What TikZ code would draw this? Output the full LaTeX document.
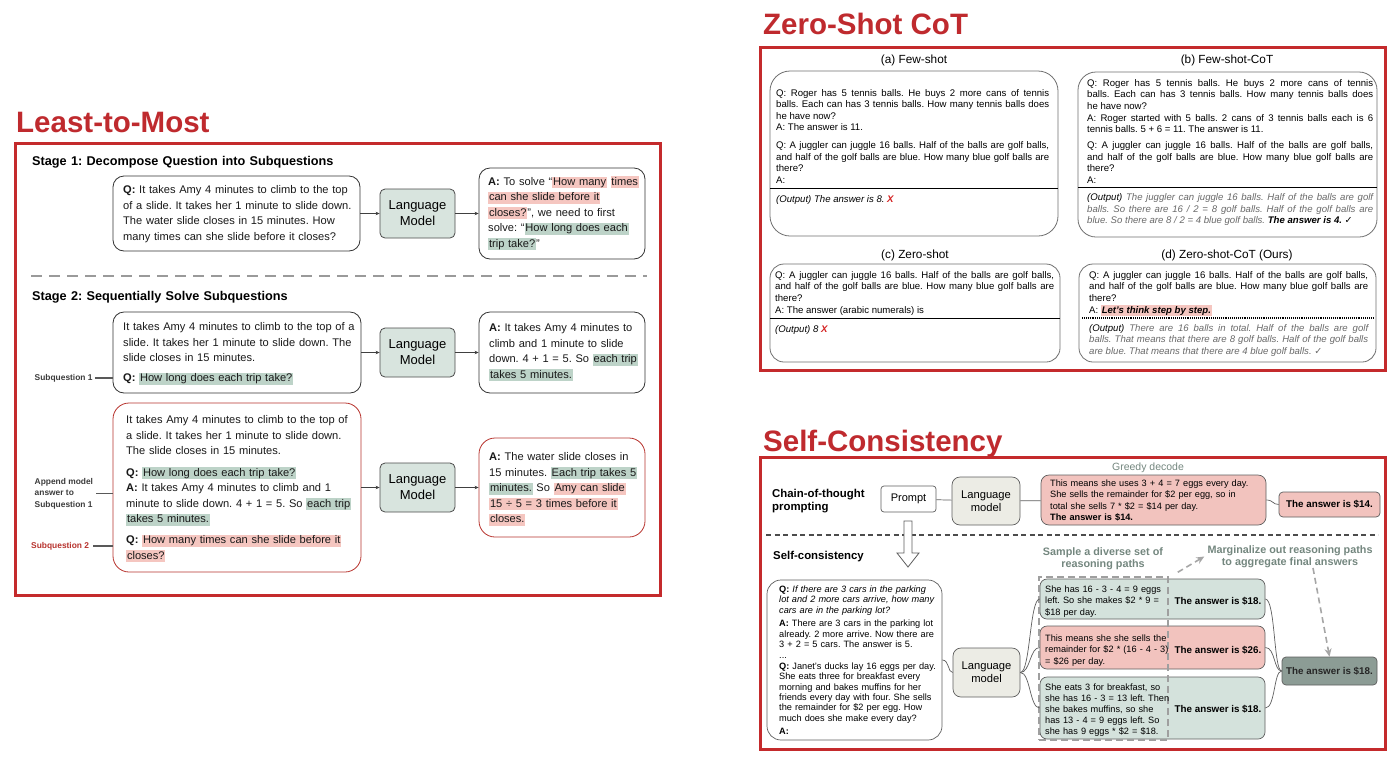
\documentclass[tikz,border=0pt]{standalone}
\usepackage{fontspec}
\setmainfont{Liberation Sans}
\newfontfamily\djv{DejaVu Sans}
\usetikzlibrary{fit,arrows.meta}
\frenchspacing
\definecolor{frameRed}{HTML}{C42A2C}
\definecolor{titleRed}{HTML}{BF2A2E}
\definecolor{lmGreen}{HTML}{D8E4DE}
\definecolor{hlGreen}{HTML}{BDD3C8}
\definecolor{hlPink}{HTML}{F5C6C0}
\definecolor{subRed}{HTML}{B8332E}
\definecolor{labGray}{HTML}{3C3C3C}
\definecolor{sepGray}{HTML}{9A9A9A}
\definecolor{zsBorder}{HTML}{707070}
\definecolor{outGray}{HTML}{6A6A6A}
\definecolor{xRed}{HTML}{D42020}
\definecolor{scGreen}{HTML}{D4E2DC}
\definecolor{scPink}{HTML}{F2C3BE}
\definecolor{scFinal}{HTML}{8C9C95}
\definecolor{scLM}{HTML}{ECECE5}
\definecolor{scBorder}{HTML}{5E5E5E}
\definecolor{scText}{HTML}{74877F}
\newcommand\myfs[2]{\fontsize{#1}{#2}\selectfont}
\newcommand\hg[1]{{\setlength\fboxsep{0.8pt}\colorbox{hlGreen}{\vphantom{Ag}#1}}}
\newcommand\hp[1]{{\setlength\fboxsep{0.8pt}\colorbox{hlPink}{\vphantom{Ag}#1}}}
\tikzset{
 frame/.style={draw=frameRed, line width=3pt, inner sep=0pt},
 ttl/.style={anchor=base west, inner sep=0pt, text=titleRed, font=\myfs{29.5}{32}\bfseries},
 tx/.style={anchor=base west, inner sep=0pt, align=left},
 ltm/.style={draw=black!80, line width=0.8pt, rounded corners=11pt, inner sep=0pt},
 ltmred/.style={draw=subRed, line width=0.8pt, rounded corners=16pt, inner sep=0pt},
 lmbox/.style={draw=black!70, line width=0.8pt, rounded corners=5pt, fill=lmGreen, align=center, font=\myfs{13}{16}, minimum width=75pt, minimum height=49pt, inner sep=0pt},
 ltmtext/.style={tx, font=\myfs{11.1}{15.5}, text=black!90},
 hdr/.style={tx, font=\myfs{12.7}{15}\bfseries, text width=330pt},
 lbl/.style={anchor=west, inner sep=0pt, align=left, font=\myfs{8.4}{11.5}\bfseries, text=labGray},
 lblline/.style={draw=black!65, line width=1.3pt},
 arr/.style={draw=black!75, line width=0.7pt, -{Stealth[length=4pt,width=3.5pt]}},
 sep/.style={draw=sepGray, line width=2.4pt, dash pattern=on 11pt off 7pt},
 zsbox/.style={draw=zsBorder, line width=0.8pt, inner sep=0pt},
 zstext/.style={anchor=base west, inner sep=0pt, align=justify, font=\myfs{9.6}{11.6}},
 zshead/.style={font=\myfs{11.8}{14}, inner sep=0pt},
 rule/.style={draw=black, line width=0.9pt},
 scbox/.style={draw=scBorder, line width=0.7pt, rounded corners=7pt, inner sep=0pt},
 sctext/.style={anchor=base west, inner sep=0pt, align=left, font=\myfs{9.2}{11.4}},
 scans/.style={font=\myfs{9.8}{12}\bfseries, inner sep=0pt},
 scline/.style={draw=scBorder, line width=0.7pt},
 scsep/.style={draw=black!70, line width=1.1pt, dash pattern=on 5pt off 3.5pt},
 dashr/.style={draw=gray!75, line width=1.5pt, dash pattern=on 7pt off 4pt, inner sep=0pt},
 dasharr/.style={draw=gray!70, line width=1.6pt, dash pattern=on 6pt off 4pt, -{Stealth[length=8pt,width=7pt]}},
}
\begin{document}
\begin{tikzpicture}[x=1pt,y=-1pt]
\useasboundingbox (0,0) rectangle (1400,764);
\fill[white] (0,0) rectangle (1400,764);

% ================= Least-to-Most =================
\node[frame, fit={(15,143)(660,595)}] (ltmf) {};
\node[ttl] (ltmt) at (16,132) {Least-to-Most};
\node[hdr] (s1) at (32,165.5) {Stage 1: Decompose Question into Subquestions};
\node[ltm, fit={(113,176)(360,251)}] (q1) {};
\node[ltmtext, text width=240pt] (q1t) at (123,193.6) {\textbf{Q:} It takes Amy 4 minutes to climb to the top\\of a slide. It takes her 1 minute to slide down.\\The water slide closes in 15 minutes. How\\many times can she slide before it closes?};
\node[lmbox] (lm1) at (417.5,213.5) {Language\\Model};
\node[ltm, fit={(479,168)(645,259)}] (a1) {};
\node[ltmtext, text width=170pt] (a1t) at (488,185.3) {\textbf{A:} To solve “\hp{How many} \hp{times}\\\hp{can she slide before it}\\\hp{closes?}”, we need to first\\solve: “\hg{How long does each}\\\hg{trip take?}”};
\draw[arr] (q1) -- (lm1);
\draw[arr] (lm1) -- (a1);
\draw[sep] (31,276) -- (647,276);

\node[hdr] (s2) at (32,300.5) {Stage 2: Sequentially Solve Subquestions};
\node[ltm, fit={(113,312)(361,393)}] (q2) {};
\node[ltmtext, text width=240pt] (q2t) at (123,330.6) {It takes Amy 4 minutes to climb to the top of a\\slide. It takes her 1 minute to slide down. The\\slide closes in 15 minutes.\\[4.5pt]\textbf{Q:} \hg{How long does each trip take?}};
\node[lmbox] (lm2) at (417.5,352.5) {Language\\Model};
\node[ltm, fit={(479,312)(645,393)}] (a2) {};
\node[ltmtext, text width=170pt] (a2t) at (489,331.6) {\textbf{A:} It takes Amy 4 minutes to\\climb and 1 minute to slide\\down. 4 + 1 = 5. So \hg{each trip}\\\hg{takes 5 minutes.}};
\draw[arr] (q2) -- (lm2);
\draw[arr] (lm2) -- (a2);
\node[lbl] (sq1) at (34.5,378) {Subquestion 1};
\draw[lblline] ([xshift=2pt]sq1.east) -- (sq1.east -| q2.west);

\node[ltmred, fit={(113,403)(361,572)}] (q3) {};
\node[ltmtext, text width=240pt] (q3t) at (126,423.6) {It takes Amy 4 minutes to climb to the top of\\a slide. It takes her 1 minute to slide down.\\The slide closes in 15 minutes.\\[6pt]\textbf{Q:} \hg{How long does each trip take?}\\\textbf{A:} It takes Amy 4 minutes to climb and 1\\minute to slide down. 4 + 1 = 5. So \hg{each trip}\\\hg{takes 5 minutes.}\\[5.5pt]\textbf{Q:} \hp{How many times can she slide before it}\\\hp{closes?}};
\node[lmbox] (lm3) at (417.5,487.5) {Language\\Model};
\node[ltmred, fit={(479,438)(645,537)}] (a3) {};
\node[ltmtext, text width=170pt] (a3t) at (489,460.6) {\textbf{A:} The water slide closes in\\15 minutes. \hg{Each trip takes 5}\\\hg{minutes.} So \hp{Amy can slide}\\\hp{15 ÷ 5 = 3 times before it}\\\hp{closes.}};
\draw[arr] (q3) -- (lm3);
\draw[arr] (lm3) -- (a3);
\node[lbl] (app) at (34.5,493.5) {Append model\\answer to\\Subquestion 1};
\draw[lblline] ([xshift=3pt]app.east) -- (app.east -| q3.west);
\node[lbl, text=subRed] (sq2) at (31,546) {Subquestion 2};
\draw[lblline] ([xshift=4pt]sq2.east) -- (sq2.east -| q3.west);

% ================= Zero-Shot CoT =================
\node[frame, fit={(760,47)(1385,370)}] (zsf) {};
\node[ttl] (zst) at (763,34) {Zero-Shot CoT};

\node[zshead] (ha) at (914,60) {(a) Few-shot};
\node[zsbox, rounded corners=20pt, fit={(770,71)(1058,236)}] (ba) {};
\node[zstext, text width=273pt] (bat) at (776,96) {Q: Roger has 5 tennis balls. He buys 2 more cans of tennis\linebreak balls. Each can has 3 tennis balls. How many tennis balls does\linebreak he have now?\\A: The answer is 11.\\[6pt]Q: A juggler can juggle 16 balls. Half of the balls are golf balls,\linebreak and half of the golf balls are blue. How many blue golf balls are\linebreak there?\\A:};
\draw[rule] (770,188.5) -- (1058,188.5);
\node[zstext, text width=273pt] (bao) at (776,202.5) {\textit{(Output) The answer is 8.} \textcolor{xRed}{\textbf{\textit{X}}}};

\node[zshead] (hb) at (1227,60) {(b) Few-shot-CoT};
\node[zsbox, rounded corners=18pt, fit={(1078,72)(1377,237)}] (bb) {};
\node[zstext, text width=286pt] (bbt) at (1087,86.2) {Q: Roger has 5 tennis balls. He buys 2 more cans of tennis\linebreak balls. Each can has 3 tennis balls. How many tennis balls does\linebreak he have now?\\A: Roger started with 5 balls. 2 cans of 3 tennis balls each is 6\linebreak tennis balls. 5 + 6 = 11. The answer is 11.\\[4.5pt]Q: A juggler can juggle 16 balls. Half of the balls are golf balls,\linebreak and half of the golf balls are blue. How many blue golf balls are\linebreak there?\\A:};
\draw[rule] (1078,187.5) -- (1377,187.5);
\node[zstext, text width=286pt] (bbo) at (1087,200.5) {\textit{(Output)} \textcolor{outGray}{\textit{The juggler can juggle 16 balls. Half of the balls are golf\linebreak balls. So there are 16 / 2 = 8 golf balls. Half of the golf balls are\linebreak blue. So there are 8 / 2 = 4 blue golf balls.}} \textbf{\textit{The answer is 4.}} {\djv ✓}};

\node[zshead] (hc) at (915,255) {(c) Zero-shot};
\node[zsbox, rounded corners=14pt, fit={(770,264)(1060,362)}] (bc) {};
\node[zstext, text width=279pt] (bct) at (775,278.3) {Q: A juggler can juggle 16 balls. Half of the balls are golf balls,\linebreak and half of the golf balls are blue. How many blue golf balls are\linebreak there?\\A: The answer (arabic numerals) is};
\draw[rule] (770,318) -- (1060,318);
\node[zstext, text width=279pt] (bco) at (775,332) {\textit{(Output) 8} \textcolor{xRed}{\textbf{\textit{X}}}};

\node[zshead] (hd) at (1227,255) {(d) Zero-shot-CoT (Ours)};
\node[zsbox, rounded corners=14pt, fit={(1079,264)(1376,362)}] (bd) {};
\node[zstext, text width=279pt] (bdt) at (1089,278.3) {Q: A juggler can juggle 16 balls. Half of the balls are golf balls,\linebreak and half of the golf balls are blue. How many blue golf balls are\linebreak there?\\A: \hp{\textbf{\textit{Let’s think step by step.}}}};
\draw[rule, densely dotted, line width=1.3pt] (1082,318) -- (1373,318);
\node[zstext, text width=279pt] (bdo) at (1089,331.3) {\textit{(Output)} \textcolor{outGray}{\textit{There are 16 balls in total. Half of the balls are golf\linebreak balls. That means that there are 8 golf balls. Half of the golf balls\linebreak are blue. That means that there are 4 blue golf balls.} {\djv ✓}}};

% ================= Self-Consistency =================
\node[frame, fit={(760,457)(1385,749)}] (scf) {};
\node[ttl] (sct) at (763,451) {Self-Consistency};
\node[font=\myfs{10.5}{12}, text=scText, inner sep=0pt] (gd) at (1148,468) {Greedy decode};
\node[tx, text width=120pt, font=\myfs{11.4}{13.5}\bfseries] (cot) at (772,497) {Chain-of-thought\\prompting};
\node[scbox, rounded corners=3pt, fill=white, minimum width=55pt, minimum height=26pt, font=\myfs{11}{13}] (pr) at (908.5,499) {Prompt};
\node[scbox, rounded corners=8pt, fill=scLM, minimum width=68pt, minimum height=48pt, align=center, font=\myfs{11.2}{13}] (lmt) at (986,501) {Language\\model};
\node[scbox, rounded corners=8pt, fill=scPink, fit={(1041,475)(1266,525)}] (gr) {};
\node[sctext, text width=220pt] (grt) at (1050,486.3) {This means she uses 3 + 4 = 7 eggs every day.\\She sells the remainder for \$2 per egg, so in\\total she sells 7 * \$2 = \$14 per day.\\\textbf{The answer is \$14.}};
\node[scbox, rounded corners=4pt, fill=scPink, minimum width=101pt, minimum height=25pt, font=\myfs{9.8}{12}\bfseries] (ga) at (1329.5,504.5) {The answer is \$14.};
\draw[scline] (pr) -- (lmt);
\draw[scline] (lmt) -- (gr);
\draw[scline] (gr.east) .. controls +(7,0) and +(-6,0) .. (ga.west);
\draw[scsep] (766,535) -- (1378,535);
\draw[draw=scBorder, line width=0.8pt, fill=white] (904,521) -- (904,553) -- (897,553) -- (908,567) -- (919,553) -- (912,553) -- (912,521) -- cycle;

\node[tx, text width=120pt, font=\myfs{11.4}{13.5}\bfseries] (scl) at (773,559) {Self-consistency};
\node[scbox, rounded corners=14pt, fill=white, fit={(767,580)(942,740)}] (qsc) {};
\node[sctext, text width=175pt, font=\myfs{9.2}{10.4}] (qsct) at (779,592.5) {\textbf{Q:} \textit{If there are 3 cars in the parking\\lot and 2 more cars arrive, how many\\cars are in the parking lot?}\\[3pt]\textbf{A:} There are 3 cars in the parking lot\\already. 2 more arrive. Now there are\\3 + 2 = 5 cars. The answer is 5.\\[1pt]...\\\textbf{Q:} Janet’s ducks lay 16 eggs per day.\\She eats three for breakfast every\\morning and bakes muffins for her\\friends every day with four. She sells\\the remainder for \$2 per egg. How\\much does she make every day?\\[3pt]\textbf{A:}};
\node[scbox, rounded corners=8pt, fill=scLM, minimum width=67pt, minimum height=49pt, align=center, font=\myfs{11.2}{13}] (lmb) at (986.5,672.5) {Language\\model};
\draw[scline] (qsc.east) .. controls +(7,0) and +(-5,0) .. (lmb.west);

\node[font=\myfs{10.8}{12}\bfseries, text=scText, align=center, inner sep=0pt] (samp) at (1103,559) {Sample a diverse set of\\reasoning paths};
\node[font=\myfs{10.8}{12.5}\bfseries, text=scText, align=center, inner sep=0pt] (marg) at (1290,556.5) {Marginalize out reasoning paths\\to aggregate final answers};

\node[scbox, fill=scGreen, fit={(1040,579)(1265,619)}] (r1) {};
\node[scbox, fill=scPink, fit={(1040,626)(1265,669)}] (r2) {};
\node[scbox, fill=scGreen, fit={(1040,677)(1265,739)}] (r3) {};
\node[dashr, fit={(1039,577)(1168,740)}] (dr) {};
\node[sctext, text width=150pt] (r1t) at (1045,592.3) {She has 16 - 3 - 4 = 9 eggs\\left. So she makes \$2 * 9 =\\\$18 per day.};
\node[scans] (r1a) at (1218,601) {The answer is \$18.};
\node[sctext, text width=150pt] (r2t) at (1045,641.3) {This means she she sells the\\remainder for \$2 * (16 - 4 - 3)\\= \$26 per day.};
\node[scans] (r2a) at (1218,650) {The answer is \$26.};
\node[sctext, text width=150pt, font=\myfs{9.2}{11}] (r3t) at (1045,690.3) {She eats 3 for breakfast, so\\she has 16 - 3 = 13 left. Then\\she bakes muffins, so she\\has 13 - 4 = 9 eggs left. So\\she has 9 eggs * \$2 = \$18.};
\node[scans] (r3a) at (1218,709) {The answer is \$18.};
\node[scbox, rounded corners=4pt, fill=scFinal, minimum width=95pt, minimum height=28pt, font=\myfs{9.8}{12}\bfseries, text=black!85] (fin) at (1329.5,671) {The answer is \$18.};

\draw[scline] (lmb.east) .. controls +(10,0) and +(-10,0) .. (r1.west);
\draw[scline] (lmb.east) .. controls +(10,0) and +(-10,0) .. (r2.west);
\draw[scline] (lmb.east) .. controls +(10,0) and +(-10,0) .. (r3.west);
\draw[scline] (r1.east) .. controls +(10,0) and +(-8,0) .. (fin.west);
\draw[scline] (r2.east) .. controls +(10,0) and +(-8,0) .. (fin.west);
\draw[scline] (r3.east) .. controls +(10,0) and +(-8,0) .. (fin.west);
\draw[dasharr] ([shift={(9,-4)}]dr.north east) -- ([xshift=-3pt]marg.west);
\draw[dasharr] ([xshift=23pt]marg.south) -- (fin.north);
\end{tikzpicture}
\end{document}
